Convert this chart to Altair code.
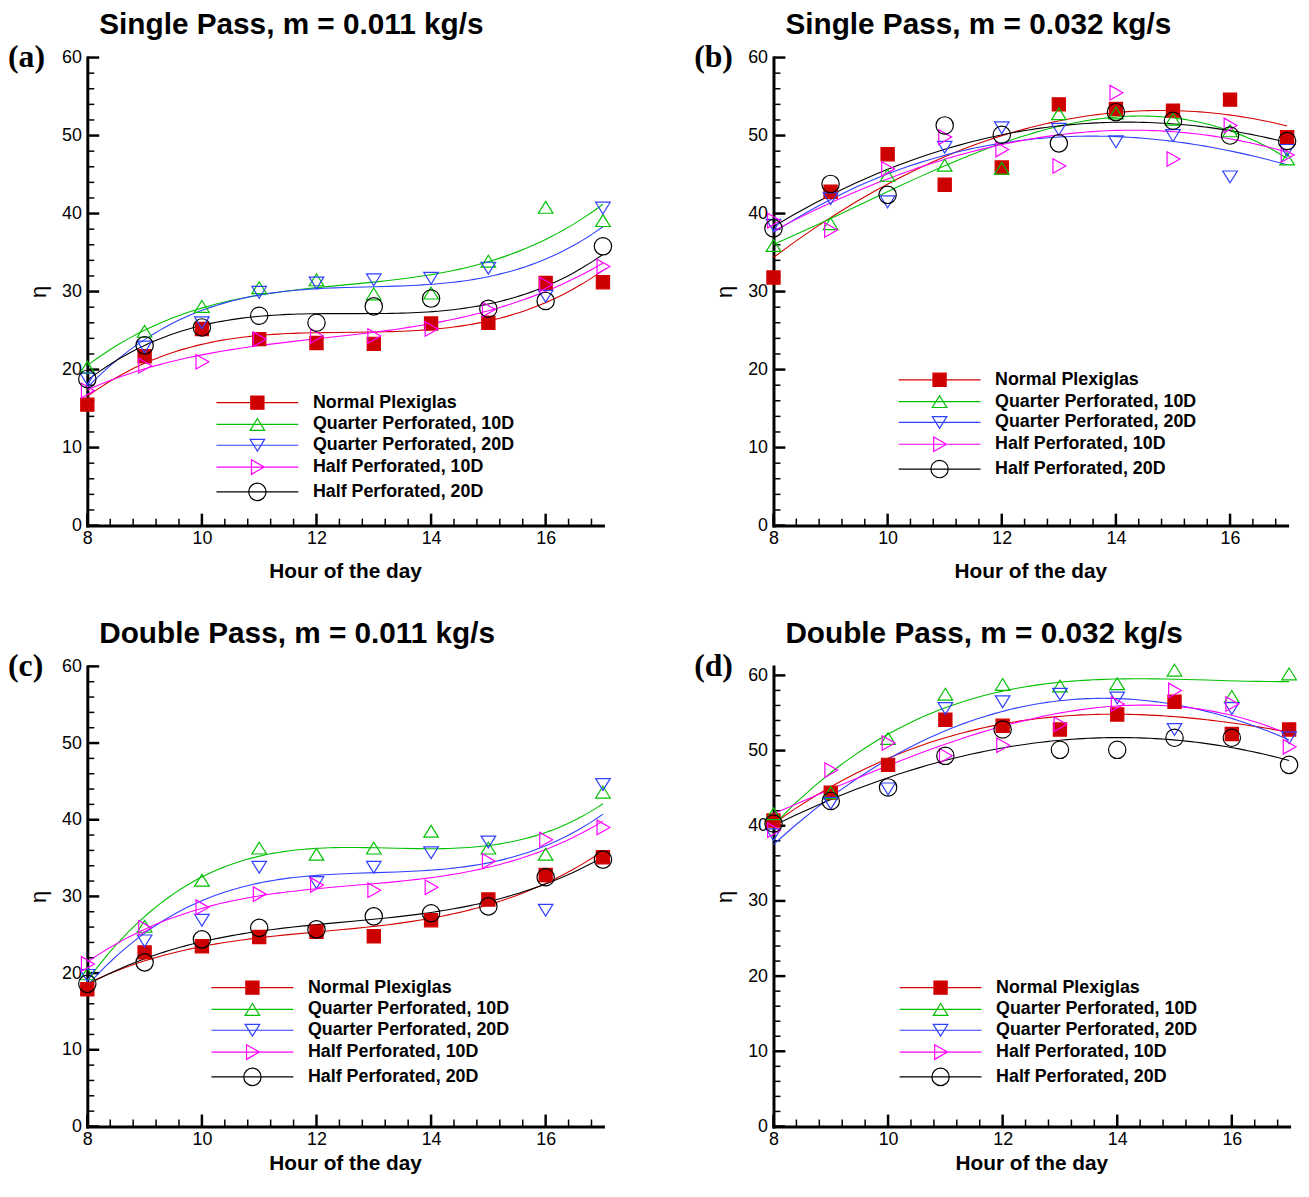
import altair as alt
import pandas as pd

hours = [8, 9, 10, 11, 12, 13, 14, 15, 16, 17]
series_names = ["Normal Plexiglas", "Quarter Perforated, 10D", "Quarter Perforated, 20D",
                "Half Perforated, 10D", "Half Perforated, 20D"]

# (a) Single pass, m = 0.011 kg/s
a_normal = [15.5, 21.7, 25.2, 23.9, 23.4, 23.3, 25.9, 26.0, 31.1, 31.2]
a_q10 = [20.3, 24.9, 28.1, 30.5, 31.5, 29.7, 29.8, 33.9, 40.8, 39.1]
a_q20 = [18.8, 22.9, 26.0, 29.9, 31.1, 31.5, 31.7, 33.0, 29.4, 40.7]
a_h10 = [17.3, 20.5, 21.0, 23.9, 24.3, 24.3, 25.2, 27.7, 30.9, 33.2]
a_h20 = [18.8, 23.1, 25.4, 26.9, 26.0, 28.1, 29.1, 27.8, 28.8, 35.8]

# (b) Single pass, m = 0.032 kg/s
b_normal = [31.8, 42.8, 47.6, 43.7, 45.9, 54.0, 53.4, 53.2, 54.6, 49.8]
b_q10 = [35.9, 38.7, 44.9, 46.2, 45.8, 52.8, 52.9, 52.1, 50.6, 47.0]
b_q20 = [38.5, 41.9, 41.5, 48.5, 51.0, 50.8, 49.2, 50.0, 44.7, 48.1]
b_h10 = [39.1, 37.9, 45.7, 49.8, 48.2, 46.1, 55.5, 47.0, 51.3, 47.5]
b_h20 = [38.1, 43.8, 42.4, 51.3, 50.1, 49.0, 53.0, 51.9, 50.0, 49.3]

# (c) Double pass, m = 0.011 kg/s
c_normal = [17.9, 22.7, 23.5, 24.7, 25.4, 24.8, 26.9, 29.6, 32.8, 35.1]
c_q10 = [19.9, 26.1, 32.1, 36.3, 35.5, 36.3, 38.5, 36.3, 35.5, 43.6]
c_q20 = [19.7, 24.2, 26.9, 33.8, 31.8, 33.8, 35.7, 37.1, 28.2, 44.6]
c_h10 = [21.2, 25.9, 28.6, 30.3, 31.5, 30.8, 31.2, 34.6, 37.4, 39.0]
c_h20 = [18.6, 21.4, 24.4, 25.9, 25.7, 27.4, 27.8, 28.7, 32.5, 34.8]

# (d) Double pass, m = 0.032 kg/s
d_normal = [40.7, 44.4, 48.1, 54.1, 53.3, 52.8, 54.8, 56.5, 52.2, 52.8]
d_q10 = [41.6, 44.4, 51.6, 57.5, 58.8, 58.6, 58.9, 60.7, 57.2, 60.2]
d_q20 = [38.8, 43.0, 44.9, 55.6, 56.5, 57.5, 57.0, 52.8, 55.6, 51.7]
d_h10 = [39.4, 47.4, 51.0, 49.3, 50.7, 53.5, 56.2, 58.0, 56.2, 50.5]
d_h20 = [40.3, 43.3, 45.1, 49.3, 52.8, 50.1, 50.1, 51.7, 51.7, 48.1]

titles = ["Single Pass, m = 0.011 kg/s", "Single Pass, m = 0.032 kg/s",
          "Double Pass, m = 0.011 kg/s", "Double Pass, m = 0.032 kg/s"]
panel_labels = ["(a)", "(b)", "(c)", "(d)"]

x_tick_labels = [8, 10, 12, 14, 16]
y_tick_labels = [0, 10, 20, 30, 40, 50, 60]
y_minor = [v for v in range(0, 61, 2) if v % 10 != 0]
x_minor = [8 + 0.4 * i for i in range(1, 23) if i % 5 != 0]

stroke_colors = ["#d40000", "#00c000", "#3040ff", "#ff00ff", "#000000"]
fill_colors = ["#cc0000", "transparent", "transparent", "transparent", "transparent"]
marker_paths = [
    "M-0.95,-0.95H0.95V0.95H-0.95Z",
    "M0,-0.85L1.05,0.85H-1.05Z",
    "M0,0.85L1.05,-0.85H-1.05Z",
    "M1,0L-0.85,-1.05V1.05Z",
    "M1.25,0A1.25,1.25,0,1,1,-1.25,0A1.25,1.25,0,1,1,1.25,0Z",
]
legend_paths = ["M-5.9,0H5.9" + p for p in marker_paths]

FONT = "Liberation Sans"


def panel(idx, vals, w, h, ymax, leg_x, leg_y, title_offset, xtitle_pad):
    rows = []
    for name, ys in zip(series_names, vals):
        for hr, v in zip(hours, ys):
            rows.append({"hour": hr, "eta": v, "series": name})
    df = pd.DataFrame(rows)

    xs = alt.Scale(domain=[8, 17], nice=False, zero=False)
    ys = alt.Scale(domain=[0, ymax], nice=False, zero=False)
    x_enc = alt.X("hour:Q", scale=xs,
                  axis=alt.Axis(values=x_tick_labels, ticks=False, grid=False, labelFlush=False,
                                labelFont=FONT, labelFontSize=18, labelColor="black",
                                title="Hour of the day", labelPadding=4,
                                titlePadding=xtitle_pad, titleFontSize=21, titleFontWeight="bold",
                                titleFont=FONT, titleColor="black"))
    y_enc = alt.Y("eta:Q", scale=ys,
                  axis=alt.Axis(values=y_tick_labels, ticks=False, grid=False, labelFlush=False,
                                labelFont=FONT, labelFontSize=18, labelColor="black",
                                title="η", labelPadding=6, titlePadding=11,
                                titleFontSize=22, titleFontWeight="normal",
                                titleFont=FONT, titleColor="black"))

    stroke_sc = alt.Scale(domain=series_names, range=stroke_colors)
    fill_sc = alt.Scale(domain=series_names, range=fill_colors)

    base = alt.Chart(df)

    lines = base.transform_regression(
        "hour", "eta", groupby=["series"], method="poly", order=3, extent=[8, 17]
    ).mark_line(strokeWidth=1.1).encode(
        x=x_enc, y=y_enc,
        stroke=alt.Stroke("series:N", scale=stroke_sc, legend=None),
    )

    points = base.mark_point(size=196, strokeWidth=1.2, opacity=1).encode(
        x=x_enc, y=y_enc,
        shape=alt.Shape("series:N", scale=alt.Scale(domain=series_names, range=marker_paths), legend=None),
        stroke=alt.Stroke("series:N", scale=stroke_sc, legend=None),
        fill=alt.Fill("series:N", scale=fill_sc, legend=None),
    )

    leg = alt.Legend(title=None, orient="none", legendX=leg_x, legendY=leg_y,
                     padding=0, symbolSize=196, symbolStrokeWidth=1.2,
                     labelFont=FONT, labelFontSize=18, labelFontWeight="bold",
                     labelColor="black", labelOffset=47, rowPadding=3, labelLimit=400)
    legend_layer = base.transform_filter("false").mark_point(size=196, strokeWidth=1.2, opacity=1).encode(
        x=x_enc, y=y_enc,
        shape=alt.Shape("series:N", scale=alt.Scale(domain=series_names, range=legend_paths), legend=leg),
        stroke=alt.Stroke("series:N", scale=stroke_sc, legend=leg),
        fill=alt.Fill("series:N", scale=fill_sc, legend=leg),
    )

    ymaj = alt.Chart(pd.DataFrame({"eta": y_tick_labels})).mark_rule(
        color="black", strokeWidth=2.5).encode(y=y_enc, x=alt.value(0), x2=alt.value(12))
    ymin = alt.Chart(pd.DataFrame({"eta": y_minor})).mark_rule(
        color="black", strokeWidth=1.5).encode(y=y_enc, x=alt.value(0), x2=alt.value(7))
    xmaj = alt.Chart(pd.DataFrame({"hour": x_tick_labels})).mark_rule(
        color="black", strokeWidth=2.5).encode(x=x_enc, y=alt.value(h), y2=alt.value(h - 12))
    xmin = alt.Chart(pd.DataFrame({"hour": x_minor})).mark_rule(
        color="black", strokeWidth=1.5).encode(x=x_enc, y=alt.value(h), y2=alt.value(h - 7))

    lab = alt.Chart(pd.DataFrame({"t": [panel_labels[idx]]})).mark_text(
        font="Liberation Serif", fontSize=32, fontWeight="bold", align="left",
        baseline="middle", color="black").encode(text="t:N", x=alt.value(-80), y=alt.value(0))

    return alt.layer(ymaj, ymin, xmaj, xmin, lines, points, legend_layer, lab).resolve_scale(
        shape="independent", stroke="independent", fill="independent"
    ).properties(
        width=w, height=h,
        title=alt.TitleParams(text=titles[idx], font=FONT, fontSize=30, fontWeight="bold",
                              anchor="start", frame="group", dx=12, offset=title_offset,
                              color="black"),
    )


pa = panel(0, [a_normal, a_q10, a_q20, a_h10, a_h20], 520, 472, 60, 162.5, 339, 2, 13)
pb = panel(1, [b_normal, b_q10, b_q20, b_h10, b_h20], 518, 472, 60, 158.5, 316, 2, 13)
pc = panel(2, [c_normal, c_q10, c_q20, c_h10, c_h20], 520, 464, 60, 157.5, 315, 2, 4)
pd_ = panel(3, [d_normal, d_q10, d_q20, d_h10, d_h20], 520, 464, 61.2, 159.5, 315, 2, 4)

chart = alt.vconcat(
    alt.hconcat(pa, pb, spacing=80),
    alt.hconcat(pc, pd_, spacing=80),
    spacing=38,
).properties(padding={"top": -3, "left": 0, "right": 0, "bottom": 0}).configure_view(
    stroke=None
).configure_axis(
    domainColor="black", domainWidth=3, domainCap="square",
)

chart.save("out.html", embed_options={"renderer": "svg", "actions": False})
